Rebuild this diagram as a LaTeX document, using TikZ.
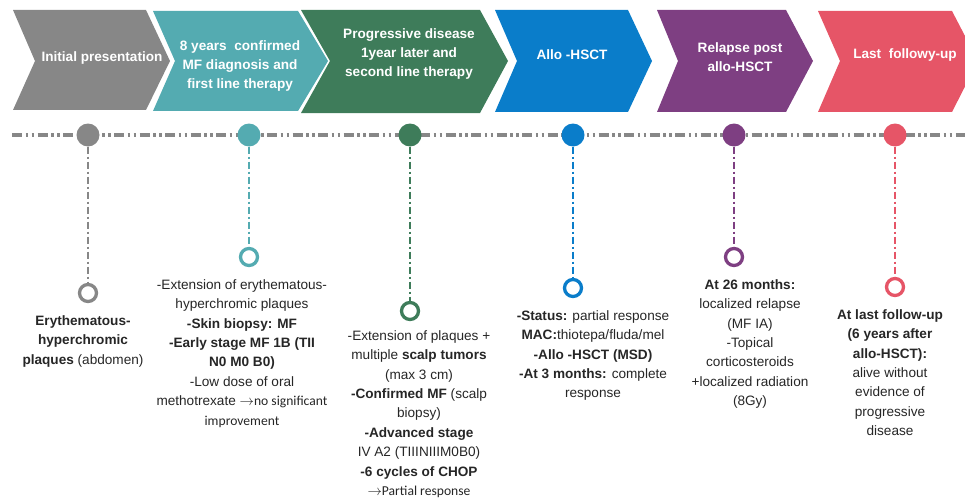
\documentclass[tikz,border=0pt]{standalone}
\usepackage{fontspec}
\setmainfont{Liberation Sans}
\newfontfamily\calibri{Carlito}
\usepackage{xcolor}
\usetikzlibrary{positioning}

\definecolor{cgray}{HTML}{878787}
\definecolor{cteal}{HTML}{54ABB1}
\definecolor{cgreen}{HTML}{3E7C5A}
\definecolor{cblue}{HTML}{0A7DCA}
\definecolor{cpurple}{HTML}{7E3F82}
\definecolor{cred}{HTML}{E65567}
\definecolor{ctext}{HTML}{262626}

\newcommand{\bodyfont}{\fontsize{13.6}{19.4}\selectfont}

\begin{document}
\begin{tikzpicture}[x=1pt, y=-1pt,
  phase/.style={text=white, font=\bodyfont\bfseries, align=center, inner sep=0pt},
  dot/.style={circle, fill=#1, minimum size=23pt, inner sep=0pt},
  ring/.style={circle, draw=#1, line width=3.3pt, fill=white, minimum size=17pt, inner sep=0pt},
  stem/.style={draw=#1, line width=2pt, dash pattern=on 7pt off 3pt on 2pt off 3pt},
  info/.style={text=ctext, font=\bodyfont, align=center, inner sep=0pt}]
\useasboundingbox (0,0) rectangle (965,500);

% Phase arrows
\fill[cgray] (13,10) -- (146,10) -- (170,61) -- (146,110) -- (13,110) -- (35,61) -- cycle;
\fill[cteal] (153,11) -- (298,11) -- (328,61) -- (298,111) -- (153,111) -- (175,61) -- cycle;
\fill[cgreen] (301,10) -- (480,10) -- (508,61) -- (480,113) -- (301,113) -- (330,61) -- cycle;
\fill[cblue] (495,10) -- (628,10) -- (652,61) -- (628,112) -- (495,112) -- (517,61) -- cycle;
\fill[cpurple] (657,10) -- (786,10) -- (813,61) -- (786,112) -- (657,112) -- (678,61) -- cycle;
\fill[cred] (818,11) -- (952,11) -- (978,61) -- (952,112) -- (818,112) -- (840,61) -- cycle;

\node[phase] (p1) at (102,58) {Initial presentation};
\node[phase] (p2) at (240,66) {8 years\ \ confirmed\\MF diagnosis and\\first line therapy};
\node[phase] (p3) at (409,54) {Progressive disease\\1year later and\\second line therapy};
\node[phase] (p4) at (572,55) {Allo -HSCT};
\node[phase] (p5) at (740,57) {Relapse post\\allo-HSCT};
\node[phase] (p6) at (905,55) {Last\ \ followy-up};

% Time line
\coordinate (tlstart) at (12,135);
\coordinate (tlend) at (965,135);
\draw[cgray, line width=3.6pt, dash pattern=on 10pt off 3.5pt on 2.5pt off 3.5pt on 2.5pt off 3.5pt] (tlstart) -- (tlend);

% Events
\foreach \name/\col/\x/\y in {a/cgray/88/293, b/cteal/249/257, c/cgreen/410/311,
                              d/cblue/573/288, e/cpurple/734/257, f/cred/895/287} {
  \node[dot=\col] (dot\name) at (\x,135) {};
  \node[ring=\col] (ring\name) at (\x,\y) {};
  \draw[stem=\col] (dot\name) -- (ring\name);
}

% Descriptions
\node[info, below=12pt of ringa, xshift=-5pt] (ta)
  {\textbf{Erythematous-}\\\textbf{hyperchromic}\\\textbf{plaques} (abdomen)};
\node[info, below=12pt of ringb, xshift=-7pt] (tb)
  {-Extension of erythematous-\\hyperchromic plaques\\\textbf{-Skin biopsy: MF}\\
   \textbf{-Early stage MF 1B (TII}\\\textbf{N0 M0 B0)}\\-Low dose of oral\\
   methotrexate {\calibri\(\rightarrow\)no significant}\\{\calibri improvement}};
\node[info, below=9pt of ringc, xshift=9pt] (tc)
  {-Extension of plaques +\\multiple \textbf{scalp tumors}\\(max 3 cm)\\
   \textbf{-Confirmed MF} (scalp\\biopsy)\\\textbf{-Advanced stage}\\IV A2 (TIIINIIIM0B0)\\
   \textbf{-6 cycles of CHOP}\\{\calibri\(\rightarrow\)Partial response}};
\node[info, below=12pt of ringd, xshift=20pt] (td)
  {\textbf{-Status:} partial response\\\textbf{MAC:}thiotepa/fluda/mel\\
   \textbf{-Allo -HSCT (MSD)}\\\textbf{-At 3 months:} complete\\response};
\node[info, below=12pt of ringe, xshift=16pt] (te)
  {\textbf{At 26 months:}\\localized relapse\\(MF IA)\\-Topical\\corticosteroids\\
   +localized radiation\\(8Gy)};
\node[info, below=12pt of ringf, xshift=-5pt] (tf)
  {\textbf{At last follow-up}\\\textbf{(6 years after}\\\textbf{allo-HSCT):}\\
   alive without\\evidence of\\progressive\\disease};
\end{tikzpicture}
\end{document}
